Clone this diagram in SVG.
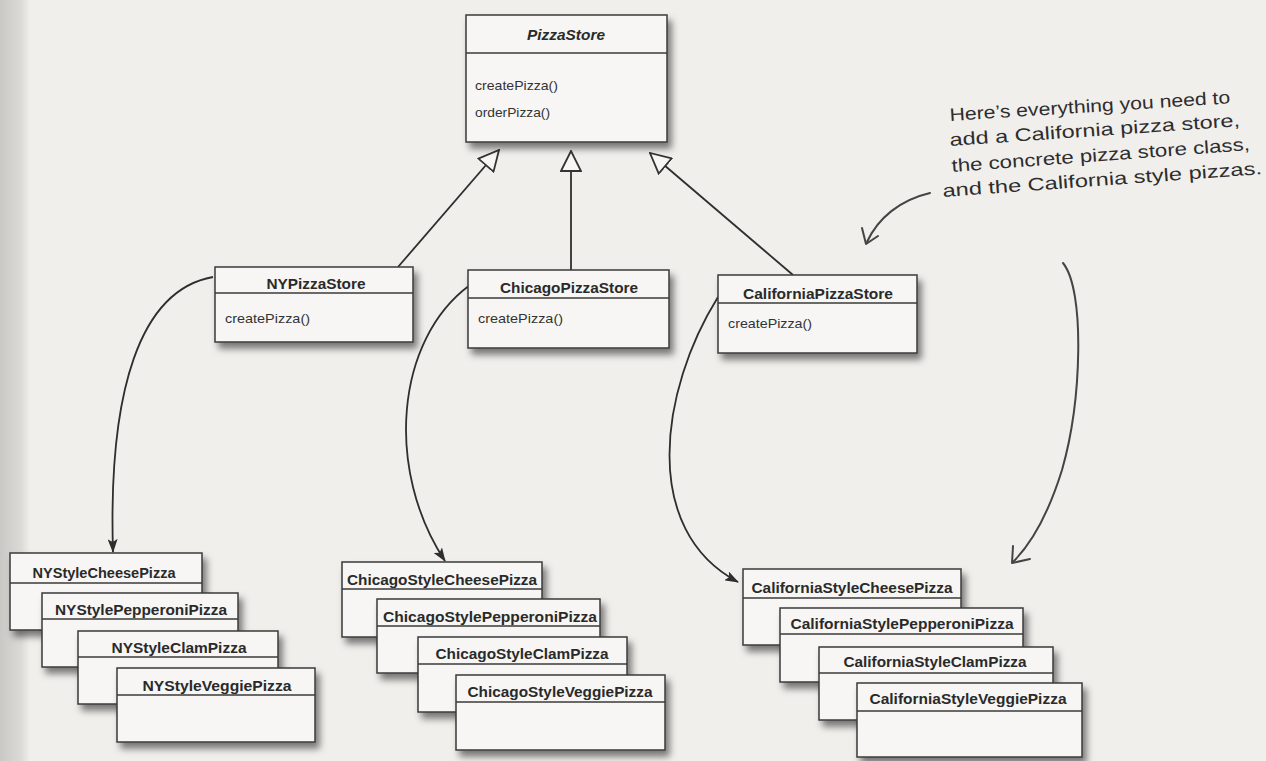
<svg xmlns="http://www.w3.org/2000/svg" width="1266" height="761" viewBox="0 0 1266 761">
<defs>
<linearGradient id="edge" x1="0" y1="0" x2="1" y2="0">
<stop offset="0" stop-color="#cac8c5"/>
<stop offset="0.7" stop-color="#dcdad7"/>
<stop offset="1" stop-color="#f1efec"/>
</linearGradient>
<filter id="sh" x="-10%" y="-15%" width="130%" height="150%">
<feDropShadow dx="4" dy="6" stdDeviation="3.5" flood-color="#000" flood-opacity="0.5"/>
</filter>
<marker id="tri" viewBox="0 0 22 22" refX="21" refY="11" markerWidth="22" markerHeight="22" markerUnits="userSpaceOnUse" orient="auto">
<path d="M1,1 L21,11 L1,21 Z" fill="#f7f6f4" stroke="#333" stroke-width="1.8" stroke-linejoin="miter"/>
</marker>
<marker id="arr" viewBox="0 0 14 10" refX="13" refY="5" markerWidth="14" markerHeight="10" markerUnits="userSpaceOnUse" orient="auto">
<path d="M0,0 L14,5 L0,10 L3,5 Z" fill="#2e2e2e"/>
</marker>
<style>
.box{fill:#f7f6f4;stroke:#3a3a3a;stroke-width:1.5;filter:url(#sh)}
.div{stroke:#3a3a3a;stroke-width:1.5}
.title{font-family:"Liberation Sans",Arial,sans-serif;font-weight:bold;font-size:14px;fill:#2a2a2a;text-anchor:middle}
.meth{font-family:"Liberation Sans",Arial,sans-serif;font-size:13.5px;fill:#333}
.conn{fill:none;stroke:#2e2e2e;stroke-width:1.8}
.hand{font-family:"Liberation Sans",Arial,sans-serif;font-size:18px;fill:#2d2d2d}
.handline{fill:none;stroke:#444;stroke-width:2;stroke-linecap:round;stroke-linejoin:round}
</style>
</defs>
<rect x="0" y="0" width="1266" height="761" fill="#f1efec"/>
<rect x="0" y="0" width="30" height="761" fill="url(#edge)"/>

<g id="connectors">
<path class="conn" d="M398,267 L499,150" marker-end="url(#tri)"/>
<path class="conn" d="M571,270 L571,151" marker-end="url(#tri)"/>
<path class="conn" d="M793,275 L650,153" marker-end="url(#tri)"/>
<path class="conn" d="M213,277 C140,290 108,390 113,552" marker-end="url(#arr)"/>
<path class="conn" d="M470,285 C395,340 385,470 445,561" marker-end="url(#arr)"/>
<path class="conn" d="M718,297 C660,390 640,530 738,582" marker-end="url(#arr)"/>
</g>

<g id="PizzaStore">
<rect class="box" x="466" y="15" width="201" height="127"/>
<line class="div" x1="466" y1="53" x2="667" y2="53"/>
<text class="title" x="566" y="40" font-style="italic" font-size="15" textLength="78" lengthAdjust="spacingAndGlyphs">PizzaStore</text>
<text class="meth" x="475" y="90" textLength="83" lengthAdjust="spacingAndGlyphs">createPizza()</text>
<text class="meth" x="475" y="117" textLength="75" lengthAdjust="spacingAndGlyphs">orderPizza()</text>
</g>

<g id="NYPizzaStore">
<rect class="box" x="215" y="267" width="198" height="75"/>
<line class="div" x1="215" y1="293" x2="413" y2="293"/>
<text class="title" x="316" y="289" textLength="99" lengthAdjust="spacingAndGlyphs">NYPizzaStore</text>
<text class="meth" x="225" y="323" textLength="85" lengthAdjust="spacingAndGlyphs">createPizza()</text>
</g>

<g id="ChicagoPizzaStore">
<rect class="box" x="468" y="270" width="201" height="78"/>
<line class="div" x1="468" y1="298" x2="669" y2="298"/>
<text class="title" x="569" y="293" textLength="138" lengthAdjust="spacingAndGlyphs">ChicagoPizzaStore</text>
<text class="meth" x="478" y="323" textLength="85" lengthAdjust="spacingAndGlyphs">createPizza()</text>
</g>

<g id="CaliforniaPizzaStore">
<rect class="box" x="718" y="275" width="199" height="78"/>
<line class="div" x1="718" y1="303" x2="917" y2="303"/>
<text class="title" x="818" y="299" textLength="150" lengthAdjust="spacingAndGlyphs">CaliforniaPizzaStore</text>
<text class="meth" x="728" y="328" textLength="84" lengthAdjust="spacingAndGlyphs">createPizza()</text>
</g>

<g id="NYStyleCheesePizza">
<rect class="box" x="10" y="553" width="192" height="77"/>
<line class="div" x1="10" y1="583" x2="202" y2="583"/>
<text class="title" x="104" y="578" textLength="143" lengthAdjust="spacingAndGlyphs">NYStyleCheesePizza</text>
</g>
<g id="NYStylePepperoniPizza">
<rect class="box" x="42" y="593" width="196" height="74"/>
<line class="div" x1="42" y1="619" x2="238" y2="619"/>
<text class="title" x="141" y="615" textLength="172" lengthAdjust="spacingAndGlyphs">NYStylePepperoniPizza</text>
</g>
<g id="NYStyleClamPizza">
<rect class="box" x="78" y="631" width="200" height="73"/>
<line class="div" x1="78" y1="657" x2="278" y2="657"/>
<text class="title" x="179" y="653" textLength="135" lengthAdjust="spacingAndGlyphs">NYStyleClamPizza</text>
</g>
<g id="NYStyleVeggiePizza">
<rect class="box" x="117" y="668" width="198" height="74"/>
<line class="div" x1="117" y1="695" x2="315" y2="695"/>
<text class="title" x="217" y="691" textLength="149" lengthAdjust="spacingAndGlyphs">NYStyleVeggiePizza</text>
</g>

<g id="ChicagoStyleCheesePizza">
<rect class="box" x="342" y="562" width="200" height="75"/>
<line class="div" x1="342" y1="589" x2="542" y2="589"/>
<text class="title" x="442" y="585" textLength="190" lengthAdjust="spacingAndGlyphs">ChicagoStyleCheesePizza</text>
</g>
<g id="ChicagoStylePepperoniPizza">
<rect class="box" x="377" y="599" width="223" height="74"/>
<line class="div" x1="377" y1="626" x2="600" y2="626"/>
<text class="title" x="490" y="622" textLength="214" lengthAdjust="spacingAndGlyphs">ChicagoStylePepperoniPizza</text>
</g>
<g id="ChicagoStyleClamPizza">
<rect class="box" x="418" y="637" width="209" height="75"/>
<line class="div" x1="418" y1="664" x2="627" y2="664"/>
<text class="title" x="522" y="659" textLength="173" lengthAdjust="spacingAndGlyphs">ChicagoStyleClamPizza</text>
</g>
<g id="ChicagoStyleVeggiePizza">
<rect class="box" x="456" y="675" width="209" height="75"/>
<line class="div" x1="456" y1="702" x2="665" y2="702"/>
<text class="title" x="560" y="697" textLength="185" lengthAdjust="spacingAndGlyphs">ChicagoStyleVeggiePizza</text>
</g>

<g id="CaliforniaStyleCheesePizza">
<rect class="box" x="743" y="569" width="218" height="76"/>
<line class="div" x1="743" y1="598" x2="961" y2="598"/>
<text class="title" x="852" y="593" textLength="201" lengthAdjust="spacingAndGlyphs">CaliforniaStyleCheesePizza</text>
</g>
<g id="CaliforniaStylePepperoniPizza">
<rect class="box" x="780" y="608" width="243" height="74"/>
<line class="div" x1="780" y1="634" x2="1023" y2="634"/>
<text class="title" x="902" y="629" textLength="223" lengthAdjust="spacingAndGlyphs">CaliforniaStylePepperoniPizza</text>
</g>
<g id="CaliforniaStyleClamPizza">
<rect class="box" x="819" y="647" width="234" height="73"/>
<line class="div" x1="819" y1="673" x2="1053" y2="673"/>
<text class="title" x="935" y="667" textLength="183" lengthAdjust="spacingAndGlyphs">CaliforniaStyleClamPizza</text>
</g>
<g id="CaliforniaStyleVeggiePizza">
<rect class="box" x="857" y="683" width="225" height="74"/>
<line class="div" x1="857" y1="711" x2="1082" y2="711"/>
<text class="title" x="968" y="704" textLength="197" lengthAdjust="spacingAndGlyphs">CaliforniaStyleVeggiePizza</text>
</g>

<g id="annotation">
<text class="hand" transform="translate(950,121) rotate(-3.6)" textLength="281" lengthAdjust="spacingAndGlyphs">Here’s everything you need to</text>
<text class="hand" transform="translate(950,146) rotate(-3.9)" textLength="291" lengthAdjust="spacingAndGlyphs">add a California pizza store,</text>
<text class="hand" transform="translate(952,172) rotate(-4.2)" textLength="299" lengthAdjust="spacingAndGlyphs">the concrete pizza store class,</text>
<text class="hand" transform="translate(943,197) rotate(-4.1)" textLength="320" lengthAdjust="spacingAndGlyphs">and the California style pizzas.</text>
<path class="handline" d="M930,193 C900,200 878,218 867,242"/>
<path class="handline" d="M862,228 L866,244 L878,236"/>
<path class="handline" d="M1063,263 C1085,290 1082,400 1062,470 C1048,515 1030,545 1013,562"/>
<path class="handline" d="M1013,546 L1012,563 L1030,559"/>
</g>
</svg>
